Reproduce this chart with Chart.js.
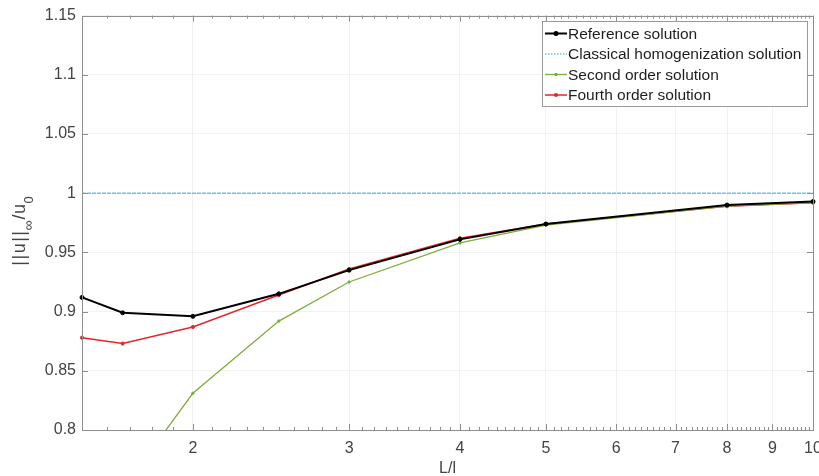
<!DOCTYPE html>
<html>
<head>
<meta charset="utf-8">
<script src="https://cdn.jsdelivr.net/npm/chart.js@4.4.1/dist/chart.umd.min.js"></script>
<style>
  html, body { margin: 0; padding: 0; background: #fff; }
  canvas { display: block; }
</style>
</head>
<body>
<canvas id="chart" width="819" height="476"></canvas>
<script>
// L/l values and the four solutions
const ratios = [1.5, 1.667, 2, 2.5, 3, 4, 5, 8, 10];
const reference = [0.912, 0.899, 0.896, 0.915, 0.935, 0.961, 0.974, 0.990, 0.993];
const classical = [1, 1, 1, 1, 1, 1, 1, 1, 1];
const secondOrder = [0.68, 0.75, 0.831, 0.892, 0.925, 0.958, 0.973, 0.989, 0.992];
const fourthOrder = [0.878, 0.873, 0.887, 0.914, 0.936, 0.962, 0.974, 0.989, 0.992];

const xTicks = [2, 3, 4, 5, 6, 7, 8, 9, 10];
const yTicks = [0.8, 0.85, 0.9, 0.95, 1, 1.05, 1.1, 1.15];

const FONT = "'Liberation Sans', Arial, sans-serif";
const textColor = "#444444";
const axisColor = "#8f8f8f";

function pts(ys) {
    return ratios.map((x, i) => ({ x: x, y: ys[i] }));
}

const data = {
    datasets: [
        {
            label: "Reference solution",
            data: pts(reference),
            borderColor: "#000000",
            backgroundColor: "#000000",
            borderWidth: 2,
            pointRadius: 2,
            pointBorderWidth: 1,
            clip: 6,
        },
        {
            label: "Classical homogenization solution",
            data: pts(classical),
            borderColor: "#74c0e4",
            backgroundColor: "#74c0e4",
            borderWidth: 1.6,
            borderDash: [4, 1],
            pointRadius: 0,
            clip: 6,
            dotted: true,
        },
        {
            label: "Second order solution",
            data: pts(secondOrder),
            borderColor: "#7fad3c",
            backgroundColor: "#7fad3c",
            borderWidth: 1.3,
            pointRadius: 1.2,
            pointBorderWidth: 1,
            clip: { left: 6, right: 6, top: 6, bottom: 0 },
        },
        {
            label: "Fourth order solution",
            data: pts(fourthOrder),
            borderColor: "#e3262e",
            backgroundColor: "#e3262e",
            borderWidth: 1.5,
            pointRadius: 1.6,
            pointBorderWidth: 1,
            clip: 6,
        },
    ],
};

// box, inward ticks, axis titles and legend
const decor = {
    id: "decor",
    afterDraw(chart) {
        const ctx = chart.ctx;
        const a = chart.chartArea;
        const xs = chart.scales.x;
        const ys = chart.scales.y;
        ctx.save();

        ctx.strokeStyle = axisColor;
        ctx.lineWidth = 1;
        ctx.beginPath();
        // major x ticks, bottom and top
        xTicks.forEach(v => {
            const px = Math.round(xs.getPixelForValue(v)) + 0.5;
            ctx.moveTo(px, a.bottom); ctx.lineTo(px, a.bottom - 6);
            ctx.moveTo(px, a.top); ctx.lineTo(px, a.top + 6);
        });
        // minor x ticks every 0.1
        for (let i = 16; i < 100; i++) {
            if (i % 10 === 0) continue;
            const px = Math.round(xs.getPixelForValue(i / 10)) + 0.5;
            ctx.moveTo(px, a.bottom); ctx.lineTo(px, a.bottom - 3);
            ctx.moveTo(px, a.top); ctx.lineTo(px, a.top + 3);
        }
        // y ticks, left and right
        yTicks.forEach(v => {
            const py = Math.round(ys.getPixelForValue(v)) + 0.5;
            ctx.moveTo(a.left, py); ctx.lineTo(a.left + 6, py);
            ctx.moveTo(a.right, py); ctx.lineTo(a.right - 6, py);
        });
        ctx.stroke();

        ctx.strokeRect(Math.round(a.left) + 0.5, Math.round(a.top) + 0.5,
            Math.round(a.right - a.left), Math.round(a.bottom - a.top));

        // x title
        ctx.fillStyle = textColor;
        ctx.font = "16px " + FONT;
        ctx.textAlign = "center";
        ctx.textBaseline = "top";
        ctx.fillText("L/l", (a.left + a.right) / 2, 461);

        // y title with subscripts: ||u||_inf / u_0
        ctx.save();
        ctx.translate(25, 231);
        ctx.rotate(-Math.PI / 2);
        ctx.textAlign = "left";
        ctx.textBaseline = "alphabetic";
        const parts = [
            ["|", 18, 0, 1.5], ["|", 18, 0, 1.5], ["u", 18, 0, 1.5], ["|", 18, 0, 1.5], ["|", 18, 0, 0.5],
            ["\u221e", 14, 8, 1],
            ["/", 18, 0, 0.5], ["u", 18, 0, 0.5],
            ["0", 13, 8, 0],
        ];
        let total = 0;
        parts.forEach(p => {
            ctx.font = p[1] + "px " + FONT;
            total += ctx.measureText(p[0]).width + p[3];
        });
        let cx = -total / 2;
        parts.forEach(p => {
            ctx.font = p[1] + "px " + FONT;
            ctx.fillText(p[0], cx, p[2]);
            cx += ctx.measureText(p[0]).width + p[3];
        });
        ctx.restore();

        // legend
        const lx = 542, ly = 21, lw = 265, lh = 85;
        ctx.fillStyle = "#ffffff";
        ctx.fillRect(lx, ly, lw, lh);
        ctx.strokeStyle = "#9a9a9a";
        ctx.lineWidth = 1;
        ctx.strokeRect(lx + 0.5, ly + 0.5, lw, lh);
        ctx.font = "15.5px " + FONT;
        ctx.textAlign = "left";
        ctx.textBaseline = "middle";
        chart.data.datasets.forEach((ds, i) => {
            const y = 33.5 + i * 20.5;
            ctx.strokeStyle = ds.borderColor;
            ctx.lineWidth = ds.borderWidth;
            ctx.setLineDash(ds.dotted ? [1.5, 1.5] : []);
            ctx.beginPath();
            ctx.moveTo(545, y);
            ctx.lineTo(567, y);
            ctx.stroke();
            ctx.setLineDash([]);
            if (ds.pointRadius > 0) {
                ctx.fillStyle = ds.backgroundColor;
                ctx.beginPath();
                ctx.arc(556, y, ds.pointRadius + 0.5, 0, Math.PI * 2);
                ctx.fill();
            }
            ctx.fillStyle = "#1e1e1e";
            ctx.fillText(ds.label, 568, y + 1);
        });

        ctx.restore();
    },
};

const config = {
    type: "line",
    data: data,
    options: {
        responsive: false,
        animation: false,
        devicePixelRatio: 1,
        layout: { padding: { left: 0, right: 6, top: 15, bottom: 0 } },
        plugins: {
            legend: { display: false },
            tooltip: { enabled: false },
        },
        scales: {
            x: {
                type: "logarithmic",
                min: 1.5,
                max: 10,
                afterBuildTicks: s => { s.ticks = xTicks.map(v => ({ value: v })); },
                afterFit: s => { s.height = 46; s.paddingLeft = 0; s.paddingRight = 0; },
                border: { display: false },
                grid: { color: "rgba(0,0,0,0.05)", drawTicks: false },
                ticks: {
                    padding: 9,
                    color: textColor,
                    font: { family: FONT, size: 16 },
                    maxRotation: 0,
                    autoSkip: false,
                    callback: v => String(v),
                },
            },
            y: {
                min: 0.8,
                max: 1.15,
                afterBuildTicks: s => { s.ticks = yTicks.map(v => ({ value: v })); },
                afterFit: s => { s.width = 82; },
                border: { display: false },
                grid: { color: "rgba(0,0,0,0.05)", drawTicks: false },
                ticks: {
                    padding: 6,
                    color: textColor,
                    font: { family: FONT, size: 16 },
                    callback: v => String(v),
                },
            },
        },
    },
    plugins: [decor],
};

const chart = new Chart(document.getElementById("chart").getContext("2d"), config);
</script>
</body>
</html>
